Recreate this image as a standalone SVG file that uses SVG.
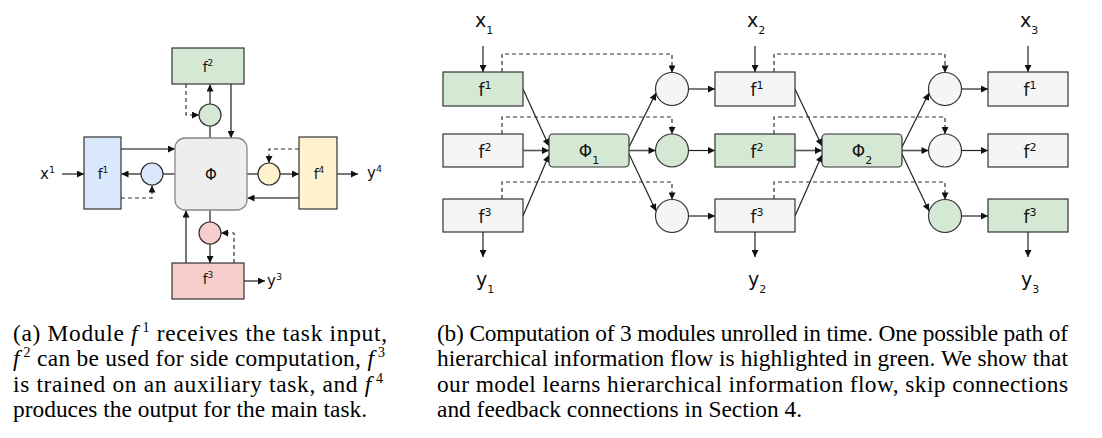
<svg xmlns="http://www.w3.org/2000/svg" width="1102" height="438" viewBox="0 0 1102 438">
<style>
.bg{fill:#ffffff}
.box{stroke:#333333;stroke-width:1.2}
.green{fill:#d5e8d4}
.gray{fill:#f5f5f5}
.blue{fill:#dae8fc}
.yellow{fill:#fff2cc}
.pink{fill:#f8cecc}
.phi{fill:#eeeeee;stroke:#888888;stroke-width:1.3}
.lbl{font-family:"DejaVu Sans",sans-serif;fill:#111111}
.ln{stroke:#222222;stroke-width:1.2;fill:none}
.lg{stroke:#555555;stroke-width:1.6;fill:none}
.ds{stroke:#333333;stroke-width:1.2;stroke-dasharray:4 3;fill:none}
.cap{font-family:"Liberation Serif","Times New Roman",serif;font-size:23.4px;fill:#000000}
.it{font-style:italic}
.sup{font-size:14px}
</style>
<defs>
<marker id="ah" viewBox="0 0 10 10" refX="10" refY="5" markerWidth="9" markerHeight="7" markerUnits="userSpaceOnUse" orient="auto">
<path d="M0,0 L10,5 L0,10 z" fill="#111111"/>
</marker>
</defs>
<rect class="bg" x="0" y="0" width="1102" height="438"/>

<g id="connectors">
<line class="lg" x1="62" y1="174" x2="84" y2="174" marker-end="url(#ah)"/>
<line class="lg" x1="121" y1="149" x2="175" y2="149" marker-end="url(#ah)"/>
<line class="lg" x1="175" y1="174" x2="163" y2="174"/>
<line class="lg" x1="141" y1="174" x2="121.5" y2="174" marker-end="url(#ah)"/>
<polyline class="ds" points="121,198 152,198 152,185.5" marker-end="url(#ah)"/>
<line class="lg" x1="231" y1="84" x2="231" y2="138" marker-end="url(#ah)"/>
<line class="lg" x1="210" y1="104" x2="210" y2="84.5" marker-end="url(#ah)"/>
<line class="lg" x1="210" y1="138" x2="210" y2="126"/>
<polyline class="ds" points="186,84 186,115 199,115" marker-end="url(#ah)"/>
<line class="lg" x1="247" y1="174" x2="258" y2="174"/>
<line class="lg" x1="280" y1="174" x2="299" y2="174" marker-end="url(#ah)"/>
<polyline class="ds" points="299,149 269,149 269,163" marker-end="url(#ah)"/>
<line class="lg" x1="299" y1="198" x2="247.5" y2="198" marker-end="url(#ah)"/>
<line class="lg" x1="210" y1="210" x2="210" y2="222"/>
<line class="lg" x1="210" y1="244" x2="210" y2="263" marker-end="url(#ah)"/>
<polyline class="ds" points="234,263 234,233 221,233" marker-end="url(#ah)"/>
<line class="lg" x1="186" y1="263" x2="186" y2="210.5" marker-end="url(#ah)"/>
<line class="lg" x1="337" y1="174" x2="358" y2="174" marker-end="url(#ah)"/>
<line class="lg" x1="244" y1="281" x2="265" y2="281" marker-end="url(#ah)"/>

<line class="ln" x1="483" y1="46" x2="483" y2="72" marker-end="url(#ah)"/>
<line class="ln" x1="755" y1="46" x2="755" y2="72" marker-end="url(#ah)"/>
<line class="ln" x1="1028" y1="46" x2="1028" y2="72" marker-end="url(#ah)"/>
<line class="ln" x1="483" y1="232" x2="483" y2="257" marker-end="url(#ah)"/>
<line class="ln" x1="755" y1="232" x2="755" y2="257" marker-end="url(#ah)"/>
<line class="ln" x1="1028" y1="232" x2="1028" y2="257" marker-end="url(#ah)"/>

<polyline class="ds" points="502,72 502,54 672,54 672,72.5" marker-end="url(#ah)"/>
<polyline class="ds" points="502,134 502,117 672,117 672,134" marker-end="url(#ah)"/>
<polyline class="ds" points="502,199 502,182 672,182 672,199.5" marker-end="url(#ah)"/>
<polyline class="ds" points="774,72 774,54 945,54 945,72.5" marker-end="url(#ah)"/>
<polyline class="ds" points="774,134 774,117 945,117 945,134" marker-end="url(#ah)"/>
<polyline class="ds" points="774,199 774,182 945,182 945,199.5" marker-end="url(#ah)"/>

<line class="ln" x1="523" y1="89" x2="549" y2="146" marker-end="url(#ah)"/>
<line class="lg" x1="523" y1="150.5" x2="549" y2="150.5" marker-end="url(#ah)"/>
<line class="ln" x1="523" y1="216" x2="549" y2="155" marker-end="url(#ah)"/>
<line class="ln" x1="629" y1="147" x2="656" y2="93" marker-end="url(#ah)"/>
<line class="lg" x1="629" y1="150.5" x2="655.5" y2="150.5" marker-end="url(#ah)"/>
<line class="ln" x1="629" y1="154" x2="656" y2="211" marker-end="url(#ah)"/>
<line class="ln" x1="688.5" y1="89" x2="715" y2="89" marker-end="url(#ah)"/>
<line class="ln" x1="688.5" y1="150.5" x2="715" y2="150.5" marker-end="url(#ah)"/>
<line class="ln" x1="688.5" y1="216" x2="715" y2="216" marker-end="url(#ah)"/>

<line class="ln" x1="795" y1="89" x2="822" y2="146" marker-end="url(#ah)"/>
<line class="lg" x1="795" y1="150.5" x2="822" y2="150.5" marker-end="url(#ah)"/>
<line class="ln" x1="795" y1="216" x2="822" y2="155" marker-end="url(#ah)"/>
<line class="ln" x1="902" y1="147" x2="929" y2="93" marker-end="url(#ah)"/>
<line class="lg" x1="902" y1="150.5" x2="928.5" y2="150.5" marker-end="url(#ah)"/>
<line class="ln" x1="902" y1="154" x2="929" y2="211" marker-end="url(#ah)"/>
<line class="ln" x1="961.5" y1="89" x2="988" y2="89" marker-end="url(#ah)"/>
<line class="ln" x1="961.5" y1="150.5" x2="988" y2="150.5" marker-end="url(#ah)"/>
<line class="ln" x1="961.5" y1="216" x2="988" y2="216" marker-end="url(#ah)"/>
</g>

<g id="a-f2">
<rect class="box green" x="172" y="48" width="72" height="36"/>
<text class="lbl" x="208" y="72" font-size="14" text-anchor="middle">f<tspan font-size="9" dy="-6">2</tspan></text>
</g>
<g id="a-c2"><circle class="box green" cx="210" cy="115" r="11"/></g>
<g id="a-phi">
<rect class="phi" x="175" y="138" width="72" height="72" rx="10"/>
<text class="lbl" x="211" y="179.5" font-size="15" text-anchor="middle">Φ</text>
</g>
<g id="a-f1">
<rect class="box blue" x="84" y="137" width="37" height="72"/>
<text class="lbl" x="103" y="179" font-size="14" text-anchor="middle">f<tspan font-size="9" dy="-6">1</tspan></text>
</g>
<g id="a-c1"><circle class="box blue" cx="152" cy="174" r="11"/></g>
<g id="a-c4"><circle class="box yellow" cx="269" cy="174" r="11"/></g>
<g id="a-f4">
<rect class="box yellow" x="299" y="137" width="38" height="72"/>
<text class="lbl" x="319" y="179" font-size="14" text-anchor="middle">f<tspan font-size="9" dy="-6">4</tspan></text>
</g>
<g id="a-c3"><circle class="box pink" cx="210" cy="233" r="11"/></g>
<g id="a-f3">
<rect class="box pink" x="172" y="263" width="72" height="36"/>
<text class="lbl" x="208" y="284" font-size="14" text-anchor="middle">f<tspan font-size="9" dy="-6">3</tspan></text>
</g>
<g id="a-x1"><text class="lbl" x="40" y="179" font-size="15">x<tspan font-size="9.5" dy="-6">1</tspan></text></g>
<g id="a-y4"><text class="lbl" x="367" y="178" font-size="15">y<tspan font-size="9.5" dy="-6">4</tspan></text></g>
<g id="a-y3"><text class="lbl" x="267" y="286" font-size="15">y<tspan font-size="9.5" dy="-6">3</tspan></text></g>

<g id="b-x1"><text class="lbl" x="475" y="27" font-size="19">x<tspan font-size="11" dy="7">1</tspan></text></g>
<g id="b-t1-f1"><rect class="box green" x="443" y="72" width="80" height="34"/><text class="lbl" x="485" y="96" font-size="17" text-anchor="middle">f<tspan font-size="11" dy="-7">1</tspan></text></g>
<g id="b-t1-f2"><rect class="box gray" x="443" y="134" width="80" height="33"/><text class="lbl" x="485" y="158" font-size="17" text-anchor="middle">f<tspan font-size="11" dy="-7">2</tspan></text></g>
<g id="b-t1-f3"><rect class="box gray" x="443" y="199" width="80" height="33"/><text class="lbl" x="485" y="223" font-size="17" text-anchor="middle">f<tspan font-size="11" dy="-7">3</tspan></text></g>
<g id="b-y1"><text class="lbl" x="476" y="286" font-size="19">y<tspan font-size="11" dy="7">1</tspan></text></g>
<g id="b-phi1"><rect class="box green" x="549" y="134" width="80" height="33" rx="4"/><text class="lbl" x="589" y="157" font-size="17" text-anchor="middle">Φ<tspan font-size="11" dy="7">1</tspan></text></g>
<g id="b-c1-1"><circle class="box gray" cx="672" cy="89" r="16.5"/></g>
<g id="b-c1-2"><circle class="box green" cx="672" cy="150.5" r="16.5"/></g>
<g id="b-c1-3"><circle class="box gray" cx="672" cy="216" r="16.5"/></g>

<g id="b-x2"><text class="lbl" x="747" y="27" font-size="19">x<tspan font-size="11" dy="7">2</tspan></text></g>
<g id="b-t2-f1"><rect class="box gray" x="715" y="72" width="80" height="34"/><text class="lbl" x="757" y="96" font-size="17" text-anchor="middle">f<tspan font-size="11" dy="-7">1</tspan></text></g>
<g id="b-t2-f2"><rect class="box green" x="715" y="134" width="80" height="33"/><text class="lbl" x="757" y="158" font-size="17" text-anchor="middle">f<tspan font-size="11" dy="-7">2</tspan></text></g>
<g id="b-t2-f3"><rect class="box gray" x="715" y="199" width="80" height="33"/><text class="lbl" x="757" y="223" font-size="17" text-anchor="middle">f<tspan font-size="11" dy="-7">3</tspan></text></g>
<g id="b-y2"><text class="lbl" x="748" y="286" font-size="19">y<tspan font-size="11" dy="7">2</tspan></text></g>
<g id="b-phi2"><rect class="box green" x="822" y="134" width="80" height="33" rx="4"/><text class="lbl" x="862" y="157" font-size="17" text-anchor="middle">Φ<tspan font-size="11" dy="7">2</tspan></text></g>
<g id="b-c2-1"><circle class="box gray" cx="945" cy="89" r="16.5"/></g>
<g id="b-c2-2"><circle class="box gray" cx="945" cy="150.5" r="16.5"/></g>
<g id="b-c2-3"><circle class="box green" cx="945" cy="216" r="16.5"/></g>

<g id="b-x3"><text class="lbl" x="1020" y="27" font-size="19">x<tspan font-size="11" dy="7">3</tspan></text></g>
<g id="b-t3-f1"><rect class="box gray" x="988" y="72" width="80" height="34"/><text class="lbl" x="1030" y="96" font-size="17" text-anchor="middle">f<tspan font-size="11" dy="-7">1</tspan></text></g>
<g id="b-t3-f2"><rect class="box gray" x="988" y="134" width="80" height="33"/><text class="lbl" x="1030" y="158" font-size="17" text-anchor="middle">f<tspan font-size="11" dy="-7">2</tspan></text></g>
<g id="b-t3-f3"><rect class="box green" x="988" y="199" width="80" height="33"/><text class="lbl" x="1030" y="223" font-size="17" text-anchor="middle">f<tspan font-size="11" dy="-7">3</tspan></text></g>
<g id="b-y3"><text class="lbl" x="1021" y="286" font-size="19">y<tspan font-size="11" dy="7">3</tspan></text></g>

<g id="caption-a">
<text class="cap" x="13" y="340.5" textLength="374" lengthAdjust="spacing">(a) Module <tspan class="it">f</tspan><tspan class="sup" dy="-9"> 1</tspan><tspan dy="9"> receives the task input,</tspan></text>
<text class="cap" x="13" y="366" textLength="372" lengthAdjust="spacing"><tspan class="it">f</tspan><tspan class="sup" dy="-9"> 2</tspan><tspan dy="9"> can be used for side computation, </tspan><tspan class="it">f</tspan><tspan class="sup" dy="-9"> 3</tspan></text>
<text class="cap" x="13" y="391.5" textLength="370" lengthAdjust="spacing">is trained on an auxiliary task, and <tspan class="it">f</tspan><tspan class="sup" dy="-9"> 4</tspan></text>
<text class="cap" x="13" y="417">produces the output for the main task.</text>
</g>
<g id="caption-b">
<text class="cap" x="437" y="340.5" textLength="631" lengthAdjust="spacing">(b) Computation of 3 modules unrolled in time. One possible path of</text>
<text class="cap" x="437" y="366" textLength="631" lengthAdjust="spacing">hierarchical information flow is highlighted in green. We show that</text>
<text class="cap" x="437" y="391.5" textLength="631" lengthAdjust="spacing">our model learns hierarchical information flow, skip connections</text>
<text class="cap" x="437" y="417">and feedback connections in Section 4.</text>
</g>
</svg>
